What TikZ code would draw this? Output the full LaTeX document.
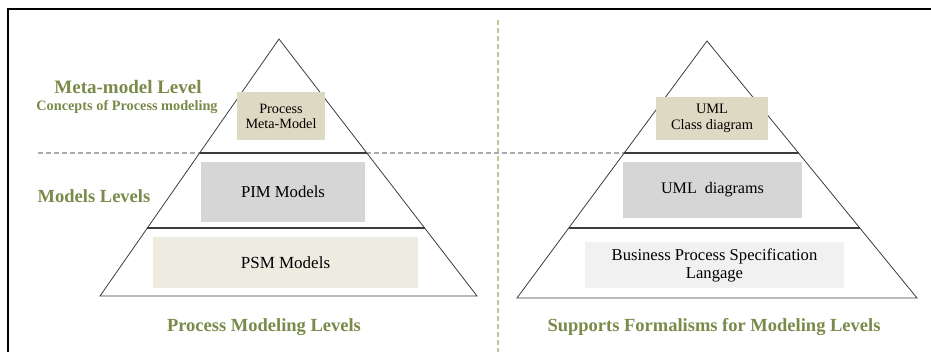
\documentclass[tikz,border=0pt]{standalone}
\usepackage{fontspec}
\setmainfont{Liberation Serif}
\usepackage{tikz}
\usetikzlibrary{calc}
\usepackage{xcolor}

\definecolor{olivetxt}{RGB}{122,138,74}
\definecolor{tanbox}{RGB}{221,217,195}
\definecolor{graybox}{RGB}{214,214,214}
\definecolor{beigebox}{RGB}{238,236,225}
\definecolor{lightbox}{RGB}{241,241,241}
\definecolor{pyrline}{RGB}{60,60,60}
\definecolor{sepline}{RGB}{200,194,150}

\tikzset{
  levelbox/.style={inner sep=0pt, align=center, text=black},
  leveltitle/.style={inner sep=0pt, text=olivetxt, font=\bfseries\fontsize{18.5}{20}\selectfont},
  pyredge/.style={pyrline, line width=0.8pt},
  levelline/.style={pyrline, line width=1.4pt}
}

\begin{document}
\begin{tikzpicture}[x=1pt, y=-1pt]
\useasboundingbox (0,0) rectangle (931,352);

% Frame
\draw[line width=2pt] (8,352) -- (8,9) -- (931,9);

% Separators
\draw[sepline, line width=1.2pt, dash pattern=on 5pt off 3pt] (498,20) -- (498,352);
\draw[gray!65, line width=1.2pt, dash pattern=on 5pt off 3pt] (38,153) -- (624,153);

% Left pyramid
\coordinate (Ltop) at (279,39);
\coordinate (Lbl) at (100,296);
\coordinate (Lbr) at (477,296);
\draw[pyredge] (Ltop) -- (Lbr) -- (Lbl) -- cycle;
\draw[levelline] ($(Ltop)!0.4436!(Lbl)$) -- ($(Ltop)!0.4436!(Lbr)$);
\draw[levelline] ($(Ltop)!0.7354!(Lbl)$) -- ($(Ltop)!0.7354!(Lbr)$);

% Right pyramid
\coordinate (Rtop) at (707,41);
\coordinate (Rbl) at (517,298);
\coordinate (Rbr) at (917,298);
\draw[pyredge] (Rtop) -- (Rbr) -- (Rbl) -- cycle;
\draw[levelline] ($(Rtop)!0.4358!(Rbl)$) -- ($(Rtop)!0.4358!(Rbr)$);
\draw[levelline] ($(Rtop)!0.7276!(Rbl)$) -- ($(Rtop)!0.7276!(Rbr)$);

% Boxes of the left pyramid
\node[levelbox, fill=tanbox, minimum width=88pt, minimum height=48pt,
      font=\fontsize{14.2}{15}\selectfont] (metamodel) at (281,116) {Process\\Meta-Model};
\node[levelbox, fill=graybox, minimum width=164pt, minimum height=60pt,
      font=\fontsize{16.7}{18}\selectfont] (pim) at (283,192) {PIM Models};
\node[levelbox, fill=beigebox, minimum width=265pt, minimum height=51pt,
      font=\fontsize{17}{18}\selectfont] (psm) at (285.5,262.5) {PSM Models};

% Boxes of the right pyramid
\node[levelbox, fill=tanbox, minimum width=112pt, minimum height=43pt,
      font=\fontsize{14.4}{16}\selectfont] (umlclass) at (712,118.5) {UML\\Class diagram};
\node[levelbox, fill=graybox, minimum width=179pt, minimum height=56pt,
      font=\fontsize{16.1}{18}\selectfont] (umldiag) at (712.5,190) {UML\ \ diagrams};
\node[levelbox, fill=lightbox, minimum width=259pt, minimum height=46pt,
      font=\fontsize{16.6}{18}\selectfont] (bpsl) at (714.5,265) {Business Process Specification\\Langage};

% Titles
\node[leveltitle, font=\bfseries\fontsize{19}{20}\selectfont] (metatitle) at (128,87) {Meta-model Level};
\node[leveltitle, font=\bfseries\fontsize{14.3}{15}\selectfont] (concepts) at (127,107) {Concepts of Process modeling};
\node[leveltitle] (modelstitle) at (94,196) {Models Levels};
\node[leveltitle] (lefttitle) at (264,327) {Process Modeling Levels};
\node[leveltitle] (righttitle) at (714,327) {Supports Formalisms for Modeling Levels};
\end{tikzpicture}
\end{document}
